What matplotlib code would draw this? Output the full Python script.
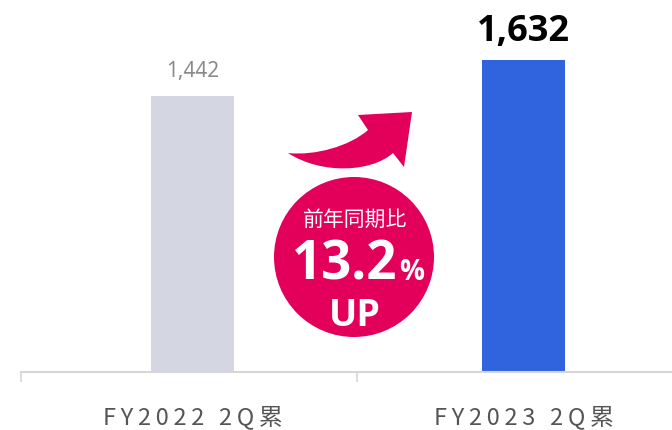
import matplotlib
matplotlib.use("Agg")
import matplotlib.pyplot as plt
from matplotlib.patches import PathPatch, Ellipse
from matplotlib.path import Path

categories = ["FY2022 2Q累", "FY2023 2Q累"]
values = [1442, 1632]
value_labels = ["1,442", "1,632"]
growth_label = "13.2"
badge_title = "前年同期比"

W, H = 672, 430
fig = plt.figure(figsize=(W / 100, H / 100), dpi=100)
fig.patch.set_facecolor("white")

ax = fig.add_axes([21 / W, (H - 372) / H, 651 / W, 372 / H])
ax.set_xlim(-0.518, 1.449)
ax.set_ylim(0, 1946)

colors = ["#d4d7e1", "#3063de"]
x = list(range(len(categories)))
ax.bar(x, values, width=0.251, color=colors, zorder=2)

for s in ["top", "right", "left"]:
    ax.spines[s].set_visible(False)
ax.spines["bottom"].set_color("#d6d6d6")
ax.spines["bottom"].set_linewidth(1.5)
ax.set_yticks([])

ax.set_xticks([-0.518, 0.497], minor=True)
ax.tick_params(axis="x", which="minor", length=7, width=1.2, color="#d6d6d6")
ax.set_xticks(x)
spaced = ["\u2009".join(list(c)) for c in categories]
ax.set_xticklabels(spaced, family=["Noto Sans CJK JP", "DejaVu Sans"],
                   fontsize=17, color="#555555")
ax.tick_params(axis="x", which="major", length=0, pad=24)

# value labels
ax.annotate(value_labels[0], (x[0], values[0]), xytext=(0, 10),
            textcoords="offset points", ha="center", va="bottom",
            fontsize=15, color="#8a8a8a", family="Noto Sans")
ax.annotate(value_labels[1], (x[1], values[1]), xytext=(0, 7),
            textcoords="offset points", ha="center", va="bottom",
            fontsize=26, color="#000000", family="Open Sans", fontweight="bold")

pink = "#e3005a"


def fx(px):
    return px / W


def fy(py):
    return 1 - py / H


circ = Ellipse((fx(354), fy(257)), 160 / W, 160 / H, transform=fig.transFigure,
               facecolor=pink, edgecolor="none", zorder=5)
fig.patches.append(circ)

fig.text(fx(355), fy(220), badge_title, ha="center", va="center", color="white",
         fontsize=15, family="Noto Sans CJK JP", zorder=6)
fig.text(fx(345), fy(265), growth_label, ha="center", va="center", color="white",
         fontsize=38, family="Open Sans", fontweight="bold", zorder=6)
fig.text(fx(412), fy(273), "%", ha="center", va="center", color="white",
         fontsize=20, family="Open Sans", fontweight="bold", zorder=6)
fig.text(fx(355), fy(316), "UP", ha="center", va="center", color="white",
         fontsize=27, family="Open Sans", fontweight="bold", zorder=6)

pts = [
    ((288, 153), Path.MOVETO),
    ((315, 156), Path.CURVE4), ((350, 146), Path.CURVE4), ((368, 130), Path.CURVE4),
    ((358, 115), Path.LINETO),
    ((412, 112), Path.LINETO),
    ((404, 167), Path.LINETO),
    ((393, 153), Path.LINETO),
    ((372, 172), Path.CURVE4), ((322, 175), Path.CURVE4), ((288, 153), Path.CURVE4),
    ((288, 153), Path.CLOSEPOLY),
]
verts = [(fx(p[0]), fy(p[1])) for p, _ in pts]
codes = [c for _, c in pts]
arrow = PathPatch(Path(verts, codes), transform=fig.transFigure,
                  facecolor=pink, edgecolor="none", zorder=5)
fig.patches.append(arrow)

fig.savefig("out.png", dpi=100)
